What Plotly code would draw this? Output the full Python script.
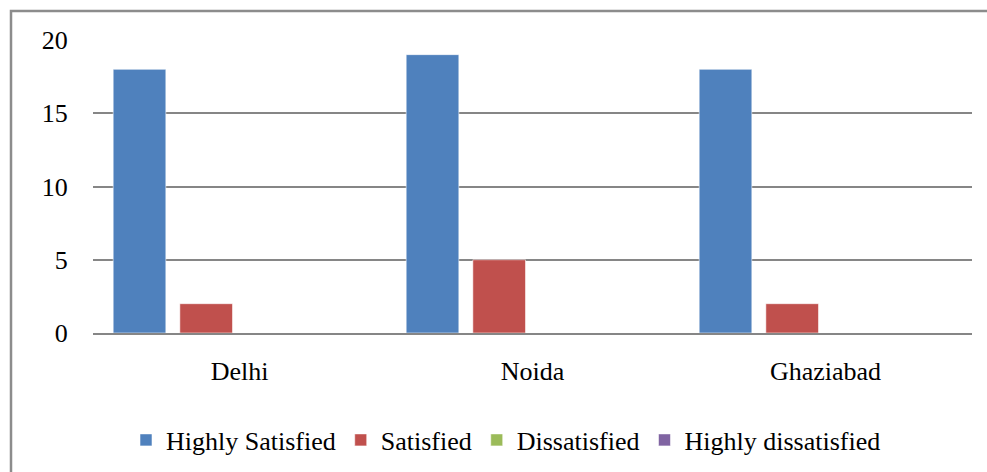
import plotly.graph_objects as go

# Survey responses by city
cities = ["Delhi", "Noida", "Ghaziabad"]
highly_satisfied = [18, 19, 18]
satisfied = [2, 5, 2]
dissatisfied = [0, 0, 0]
highly_dissatisfied = [0, 0, 0]

series = [
    ("Highly Satisfied", highly_satisfied, "#4F81BD"),
    ("Satisfied", satisfied, "#C0504D"),
    ("Dissatisfied", dissatisfied, "#9BBB59"),
    ("Highly dissatisfied", highly_dissatisfied, "#8064A2"),
]

W, H = 987, 472
ML, MR, MT, MB = 93, 15, 40, 139
FONT = "Liberation Serif"

fig = go.Figure()
for name, vals, color in series:
    fig.add_trace(go.Bar(
        x=cities, y=vals, name=name,
        marker=dict(color=color, line=dict(color="rgba(255,255,255,0.55)", width=1)),
    ))

# outer frame of the chart area
pw = W - ML - MR
ph = H - MT - MB
fig.add_shape(
    type="rect", xref="paper", yref="paper",
    x0=(11 - ML) / pw, x1=(W + 5 - ML) / pw,
    y0=-(H + 5 - MT - ph) / ph, y1=1 + (MT - 11) / ph,
    line=dict(color="#8c8c8c", width=2.5), fillcolor="rgba(0,0,0,0)", layer="below",
)

fig.update_layout(
    width=W, height=H,
    margin=dict(l=ML, r=MR, t=MT, b=MB),
    paper_bgcolor="white", plot_bgcolor="white",
    font=dict(family=FONT, size=26, color="black"),
    barmode="group", bargap=0.09, bargroupgap=0.21,
    showlegend=True,
    legend=dict(
        orientation="h", xref="container", yref="container",
        x=506 / W, xanchor="center", y=(H - 440) / H, yanchor="middle",
        font=dict(family=FONT, size=26, color="black"),
    ),
    xaxis=dict(
        showgrid=False, showline=True, linecolor="#868686", linewidth=1.5,
        ticks="outside", ticklen=14, tickcolor="rgba(0,0,0,0)",
        tickfont=dict(family=FONT, size=26, color="black"),
    ),
    yaxis=dict(
        range=[0, 20], dtick=5, showgrid=True, gridcolor="#868686", gridwidth=1.5,
        zeroline=False, showline=False,
        ticks="outside", ticklen=19, tickcolor="rgba(0,0,0,0)",
        tickfont=dict(family=FONT, size=26, color="black"),
    ),
)

fig.write_html("out.html")
